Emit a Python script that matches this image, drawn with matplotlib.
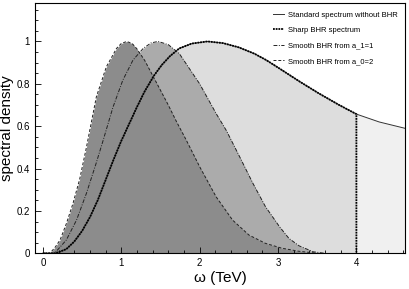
import numpy as np
import matplotlib
matplotlib.use('Agg')
import matplotlib.pyplot as plt
from matplotlib.ticker import MultipleLocator

plt.rcParams['font.family'] = ['Liberation Sans', 'DejaVu Sans']

# %% data
# standard spectrum (no BHR), also the sharp BHR spectrum up to the cut
std_w = [0.0, 0.15, 0.2, 0.3, 0.4, 0.5, 0.6, 0.7, 0.8, 0.9, 1.0, 1.1, 1.2,
         1.3, 1.42, 1.52, 1.62, 1.74, 1.9, 2.1, 2.3, 2.5, 2.7, 2.85, 3.02,
         3.27, 3.52, 3.78, 4.0, 4.29, 4.62]
std_v = [0.0, 0.0, 0.005, 0.02, 0.055, 0.105, 0.17, 0.25, 0.345, 0.44, 0.53,
         0.61, 0.69, 0.765, 0.84, 0.89, 0.93, 0.967, 0.99, 1.0, 0.992, 0.972,
         0.942, 0.912, 0.872, 0.812, 0.755, 0.70, 0.657, 0.62, 0.59]
cut_w = 4.0

# smooth BHR from a_1=1
a1_w = [0.0, 0.15, 0.3, 0.43, 0.556, 0.68, 0.77, 0.895, 1.02, 1.15, 1.28,
        1.38, 1.47, 1.6, 1.74, 2.0, 2.21, 2.34, 2.51, 2.68, 2.84, 3.02, 3.14,
        3.27, 3.45, 3.6]
a1_v = [0.0, 0.0, 0.063, 0.157, 0.283, 0.425, 0.534, 0.69, 0.817, 0.912,
        0.967, 0.993, 1.0, 0.985, 0.943, 0.80, 0.66, 0.58, 0.456, 0.33, 0.22,
        0.125, 0.07, 0.035, 0.007, 0.0]

# smooth BHR from a_0=2
a0_w = [0.0, 0.09, 0.16, 0.22, 0.30, 0.385, 0.47, 0.556, 0.683, 0.81, 0.94,
        1.0, 1.07, 1.14, 1.2, 1.3, 1.4, 1.5, 1.6, 1.7, 1.83, 2.0, 2.21, 2.42,
        2.63, 2.84, 3.05, 3.26, 3.5]
a0_v = [0.0, 0.0, 0.03, 0.063, 0.14, 0.236, 0.35, 0.50, 0.739, 0.88, 0.967,
        0.99, 1.0, 0.99, 0.965, 0.91, 0.84, 0.77, 0.70, 0.625, 0.534, 0.409,
        0.267, 0.157, 0.086, 0.047, 0.024, 0.01, 0.0]

labels = ['Standard spectrum without BHR', 'Sharp BHR spectrum',
          'Smooth BHR from a_1=1', 'Smooth BHR from a_0=2']

# %% plot
std_w = np.array(std_w)
std_v = np.array(std_v)
inside = std_w <= cut_w
outside = std_w >= cut_w

fig = plt.figure(figsize=(4.09, 2.89), dpi=100)
ax = fig.add_axes([35 / 409, 1 - 253.3 / 289, 370 / 409, 250 / 289])

ax.fill_between(std_w[outside], std_v[outside], color='#f0f0f0', lw=0)
ax.fill_between(std_w[inside], std_v[inside], color='#dddddd', lw=0)
ax.fill_between(a1_w, a1_v, color='#ababab', lw=0)
ax.fill_between(a0_w, a0_v, color='#8c8c8c', lw=0)

ax.plot(std_w, std_v, color='#333333', lw=0.7, label=labels[0])
sharp_w = list(std_w[inside]) + [cut_w]
sharp_v = list(std_v[inside]) + [0.0]
ax.plot(sharp_w, sharp_v, color='black', lw=1.3, ls=(0, (1, 0.5)),
        label=labels[1])
ax.plot(a1_w, a1_v, color='#222222', lw=0.7, ls=(0, (4, 1.5, 1, 1.5)),
        label=labels[2])
ax.plot(a0_w, a0_v, color='#222222', lw=0.7, ls=(0, (3, 2)),
        label=labels[3])

ax.set_xlim(-0.1, 4.62)
ax.set_ylim(0, 1.18)
ax.xaxis.set_major_locator(MultipleLocator(1))
ax.xaxis.set_minor_locator(MultipleLocator(0.2))
ax.yaxis.set_minor_locator(MultipleLocator(0.05))
ax.set_yticks([0, 0.2, 0.4, 0.6, 0.8, 1.0])
ax.set_yticklabels(['0', '0.2', '0.4', '0.6', '0.8', '1'])
ax.tick_params(which='both', direction='in', labelsize=7, width=0.6,
               top=False, right=False)
ax.tick_params(which='major', length=4)
ax.tick_params(which='minor', length=2)
for sp in ax.spines.values():
    sp.set_linewidth(0.8)

ax.set_xlabel('ω (TeV)', fontsize=11, labelpad=2)
ax.set_ylabel('spectral density', fontsize=11, labelpad=2)

ax.legend(loc='upper right', bbox_to_anchor=(1.0, 0.995), frameon=False,
          fontsize=5.5, handlelength=1.4, handletextpad=0.6,
          labelspacing=1.05)

fig.savefig('out.png', dpi=100)
